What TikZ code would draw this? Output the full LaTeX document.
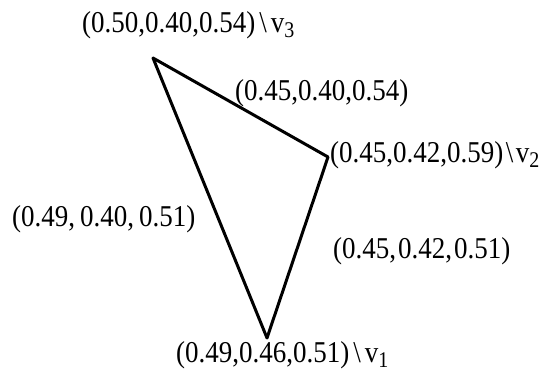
\documentclass[tikz,border=0pt]{standalone}
\usepackage{fontspec}
\usepackage{graphicx}
\setmainfont{Liberation Serif}
\newcommand{\vsub}[2][4pt]{\hspace{#1}\textbackslash\hspace{#1}v\raisebox{-5pt}{\fontsize{20}{20}\selectfont #2}}
\newcommand{\tall}[1]{\scalebox{1}[1.12]{#1}}
\begin{document}
\begin{tikzpicture}[x=1pt,y=-1pt,
  lbl/.style={inner sep=0pt,anchor=base west,font=\fontsize{27}{30}\selectfont},
  edge/.style={line width=3pt,line join=round}]
\useasboundingbox (0,0) rectangle (541,375);
\coordinate (v3) at (153,58);
\coordinate (v2) at (328,157);
\coordinate (v1) at (267,338);
\draw[edge] (v3) -- (v2) -- (v1) -- cycle;
\node[lbl] (l3) at (82,32) {\tall{(0.50,0.40,0.54)\vsub{3}}};
\node[lbl] (e32) at (235,100) {\tall{(0.45,0.40,0.54)}};
\node[lbl] (l2) at (330,162) {\tall{(0.45,0.42,0.59)\vsub[2.5pt]{2}}};
\node[lbl] (e31) at (12,226) {\tall{(0.49,\hspace{5pt}0.40,\hspace{5pt}0.51)}};
\node[lbl] (e21) at (333,258) {\tall{(0.45,\hspace{2pt}0.42,\hspace{2pt}0.51)}};
\node[lbl] (l1) at (176,362) {\tall{(0.49,0.46,0.51)\vsub{1}}};
\end{tikzpicture}
\end{document}
